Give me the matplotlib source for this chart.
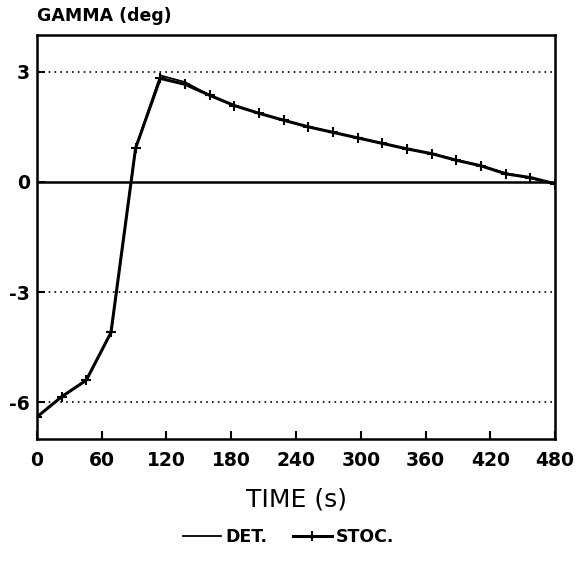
import matplotlib
matplotlib.use("Agg")
import matplotlib.pyplot as plt

time_s = [0, 22.9, 45.7, 68.6, 91.4, 114.3, 137.1, 160, 182.9, 205.7, 228.6,
          251.4, 274.3, 297.1, 320, 342.9, 365.7, 388.6, 411.4, 434.3, 457.1, 480]
gamma_det = [-6.4, -5.85, -5.4, -4.1, 0.92, 2.9, 2.72, 2.36, 2.08, 1.87, 1.68,
             1.5, 1.35, 1.2, 1.05, 0.9, 0.77, 0.6, 0.44, 0.24, 0.1, -0.05]
gamma_stoc = [-6.4, -5.85, -5.4, -4.1, 0.92, 2.82, 2.66, 2.36, 2.08, 1.87, 1.68,
              1.5, 1.35, 1.2, 1.05, 0.9, 0.77, 0.59, 0.44, 0.22, 0.12, -0.05]
xticks = [0, 60, 120, 180, 240, 300, 360, 420, 480]
yticks = [3, 0, -3, -6]
ytick_labels = ["3", "0", "-3", "-6"]

plt.rcParams['font.family'] = ['DejaVu Sans']
fig = plt.figure(figsize=(5.77, 5.61), dpi=100)
ax = fig.add_axes([0.064, 0.2175, 0.898, 0.72])

for yv in [3, -3, -6]:
    ax.axhline(yv, color='black', linestyle=(0, (1, 2.5)), linewidth=1.2, zorder=1)
ax.axhline(0, color='black', linewidth=1.8, zorder=1)

ax.plot(time_s, gamma_det, color='black', linewidth=1.3, label='DET.', zorder=3)
ax.plot(time_s, gamma_stoc, color='black', linewidth=2.2, marker='+',
        markersize=7, markeredgewidth=1.5, label='STOC.', zorder=4)

ax.set_xlim(0, 480)
ax.set_ylim(-7, 4)
ax.set_xticks(xticks)
ax.set_xticklabels([str(v) for v in xticks], fontsize=13.5, fontweight='bold')
ax.set_yticks(yticks)
ax.set_yticklabels(ytick_labels, fontsize=13.5, fontweight='bold')
ax.tick_params(axis='both', direction='in', length=6, width=1.5)
ax.tick_params(axis='x', pad=9)
ax.tick_params(axis='y', pad=5)
for s in ax.spines.values():
    s.set_linewidth(1.8)

ax.set_xlabel('TIME (s)', fontsize=18, labelpad=12)
fig.text(0.064, 0.955, 'GAMMA (deg)', fontsize=12.5, fontweight='bold', ha='left', va='bottom')

leg = fig.legend(loc='center', bbox_to_anchor=(0.5, 0.043), ncol=2, frameon=False,
                 fontsize=12.5, handlelength=2.2, columnspacing=1.5, handletextpad=0.25)
for t in leg.get_texts():
    t.set_fontweight('bold')

fig.savefig('out.png', dpi=100)
